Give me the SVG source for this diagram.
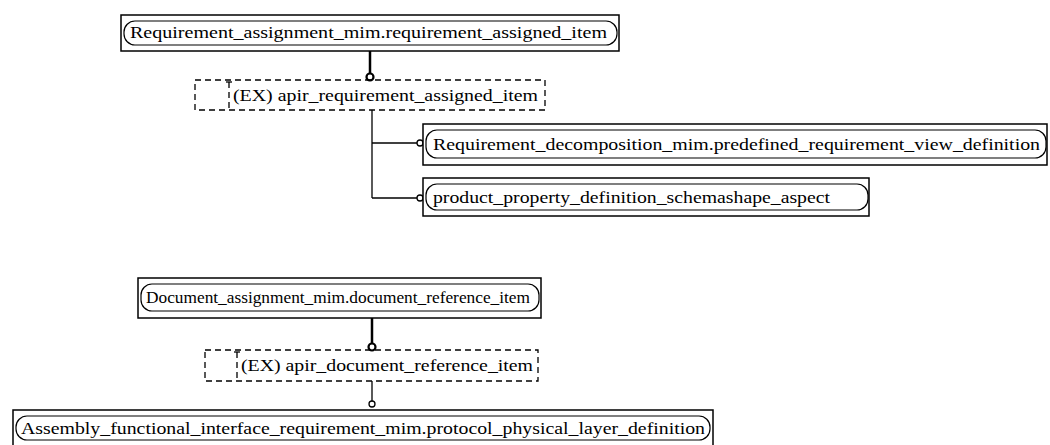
<svg xmlns="http://www.w3.org/2000/svg" width="1050" height="445" viewBox="0 0 1050 445">
<style>
.outer{fill:#fff;stroke:#000;stroke-width:1.5}
.inner{fill:none;stroke:#000;stroke-width:1.2}
.dash{fill:none;stroke:#000;stroke-width:1.3;stroke-dasharray:6,4}
.t{font-family:"Liberation Serif","Times New Roman",serif;font-size:16px;fill:#000}
.ln{stroke:#000;stroke-width:1.3;fill:none}
.thick{stroke:#000;stroke-width:2.5;fill:none}
.circ{fill:#fff;stroke:#000;stroke-width:1.3}
.circT{fill:#fff;stroke:#000;stroke-width:2.2}
</style>
<g id="connectors">
<line class="thick" x1="370" y1="51" x2="370" y2="74"/>
<circle class="circT" cx="370" cy="77" r="3.5"/>
<line class="ln" x1="372" y1="110" x2="372" y2="198"/>
<line class="ln" x1="372" y1="143" x2="417" y2="143"/>
<circle class="circ" cx="420" cy="143" r="3"/>
<line class="ln" x1="372" y1="198" x2="417" y2="198"/>
<circle class="circ" cx="420" cy="198" r="3"/>
<line class="thick" x1="372" y1="318" x2="372" y2="344"/>
<circle class="circT" cx="372" cy="347" r="3.5"/>
<line class="ln" x1="372" y1="381" x2="372" y2="401"/>
<circle class="circ" cx="372" cy="404" r="3"/>
</g>
<g id="n1">
<rect class="outer" x="121" y="15" width="498" height="36"/>
<rect class="inner" x="124" y="21" width="493" height="24" rx="11"/>
<text class="t" x="130" y="38" textLength="477" lengthAdjust="spacingAndGlyphs">Requirement_assignment_mim.requirement_assigned_item</text>
</g>
<g id="n2">
<rect class="dash" x="195" y="80" width="350" height="30"/>
<line class="dash" x1="229" y1="82" x2="229" y2="110"/>
<line class="ln" x1="226" y1="82" x2="232" y2="82"/>
<text class="t" x="233" y="101" textLength="305" lengthAdjust="spacingAndGlyphs">(EX) apir_requirement_assigned_item</text>
</g>
<g id="n3">
<rect class="outer" x="423" y="124" width="624" height="41"/>
<rect class="inner" x="426" y="130" width="620" height="28" rx="11"/>
<text class="t" x="433" y="150" textLength="607" lengthAdjust="spacingAndGlyphs">Requirement_decomposition_mim.predefined_requirement_view_definition</text>
</g>
<g id="n4">
<rect class="outer" x="423" y="178" width="446" height="38"/>
<rect class="inner" x="426" y="184" width="442" height="26" rx="11"/>
<text class="t" x="433" y="203" textLength="397" lengthAdjust="spacingAndGlyphs">product_property_definition_schemashape_aspect</text>
</g>
<g id="n5">
<rect class="outer" x="138" y="278" width="403" height="40"/>
<rect class="inner" x="141" y="284" width="398" height="27" rx="11"/>
<text class="t" x="146" y="303" textLength="384" lengthAdjust="spacingAndGlyphs">Document_assignment_mim.document_reference_item</text>
</g>
<g id="n6">
<rect class="dash" x="205" y="350" width="333" height="31"/>
<line class="dash" x1="237" y1="352" x2="237" y2="381"/>
<line class="ln" x1="234" y1="352" x2="240" y2="352"/>
<text class="t" x="241" y="371" textLength="292" lengthAdjust="spacingAndGlyphs">(EX) apir_document_reference_item</text>
</g>
<g id="n7">
<rect class="outer" x="13" y="410" width="700" height="36"/>
<rect class="inner" x="16" y="416" width="694" height="24" rx="11"/>
<text class="t" x="21" y="434" textLength="684" lengthAdjust="spacingAndGlyphs">Assembly_functional_interface_requirement_mim.protocol_physical_layer_definition</text>
</g>
</svg>
